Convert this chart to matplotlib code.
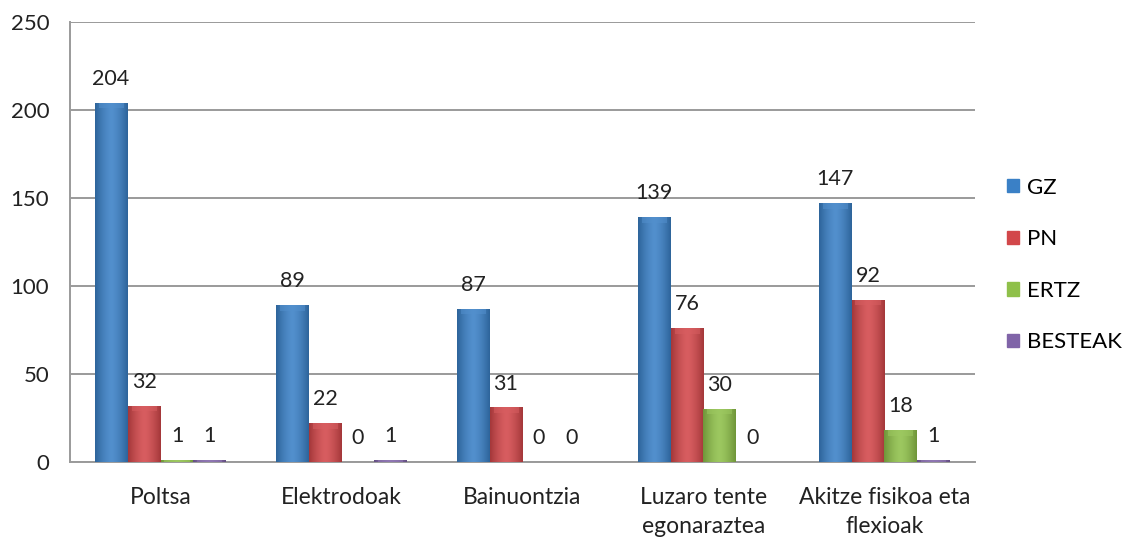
import matplotlib
matplotlib.use("Agg")
import matplotlib.pyplot as plt
import matplotlib.colors as mcolors
import numpy as np

categories = ["Poltsa", "Elektrodoak", "Bainuontzia", "Luzaro tente\negonaraztea",
              "Akitze fisikoa eta\nflexioak"]
series_names = ["GZ", "PN", "ERTZ", "BESTEAK"]
gz = [204, 89, 87, 139, 147]
pn = [32, 22, 31, 76, 92]
ertz = [1, 0, 0, 30, 18]
besteak = [1, 1, 0, 0, 1]
yticks = [0, 50, 100, 150, 200, 250]

SERIES_COLORS = ["#3a80c6", "#d2474a", "#8fc04a", "#8064a8"]

plt.rcParams["font.family"] = ["Lato", "DejaVu Sans"]


def gradient_fill(ax, bar, color):
    """Paint a horizontal light-centre gradient inside a bar."""
    x, y = bar.get_x(), bar.get_y()
    w, h = bar.get_width(), bar.get_height()
    if h <= 0:
        return
    base = np.array(mcolors.to_rgb(color))
    dark = base * 0.78
    light = np.clip(base + (1 - base) * 0.12, 0, 1)
    t = np.linspace(-1, 1, 64)
    mix = (1 - np.abs(t) ** 1.5)[:, None]
    row = dark + (light - dark) * mix
    img = np.tile(row[None, :, :], (2, 1, 1))
    im = ax.imshow(img, extent=(x, x + w, y, y + h), aspect="auto",
                   interpolation="bilinear", zorder=3)
    im.set_clip_path(bar)
    # light bevel at the top
    cap = min(h, 3.0)
    ax.fill_between([x + w * 0.12, x + w * 0.88], y + h - cap, y + h,
                    color=light, alpha=0.55, lw=0, zorder=4)


fig = plt.figure(figsize=(11.37, 5.38), dpi=100)
ax = fig.add_axes([0.0616, 0.1413, 0.7959, 0.8177])

data = [gz, pn, ertz, besteak]
n = len(series_names)
width = 0.182
xs = np.arange(len(categories))

for i, (name, vals) in enumerate(zip(series_names, data)):
    offs = xs + (i - (n - 1) / 2) * width
    bars = ax.bar(offs, vals, width=width, color=SERIES_COLORS[i], label=name,
                  zorder=2, linewidth=0)
    for b, v in zip(bars, vals):
        if v > 0:
            gradient_fill(ax, b, SERIES_COLORS[i])
        ax.annotate(str(v), (b.get_x() + b.get_width() / 2, v),
                    xytext=(0, 10), textcoords="offset points",
                    ha="center", va="bottom", fontsize=15.5, color="#222222")

ax.set_xlim(-0.5, len(categories) - 0.5)
ax.set_ylim(0, 250)
ax.set_yticks(yticks)
ax.set_xticks(xs)
ax.set_xticklabels(categories, fontsize=16.5, color="#222222", linespacing=1.45)
ax.tick_params(axis="y", labelsize=16, colors="#222222", length=0, pad=15)
ax.tick_params(axis="x", length=0, pad=18)
ax.grid(axis="y", color="#9a9a9a", lw=1.4, zorder=0)
for s in ["top", "right"]:
    ax.spines[s].set_visible(False)
for s in ["left", "bottom"]:
    ax.spines[s].set_color("#9a9a9a")
    ax.spines[s].set_linewidth(1.4)
ax.set_axisbelow(True)

handles = [plt.Rectangle((0, 0), 1, 1, color=c) for c in SERIES_COLORS]
fig.legend(handles, series_names, loc="upper left", bbox_to_anchor=(0.868, 0.707),
           frameon=False, fontsize=16, labelspacing=1.42, handlelength=0.55,
           handleheight=0.55, handletextpad=0.35)

fig.savefig("out.png", dpi=100)
